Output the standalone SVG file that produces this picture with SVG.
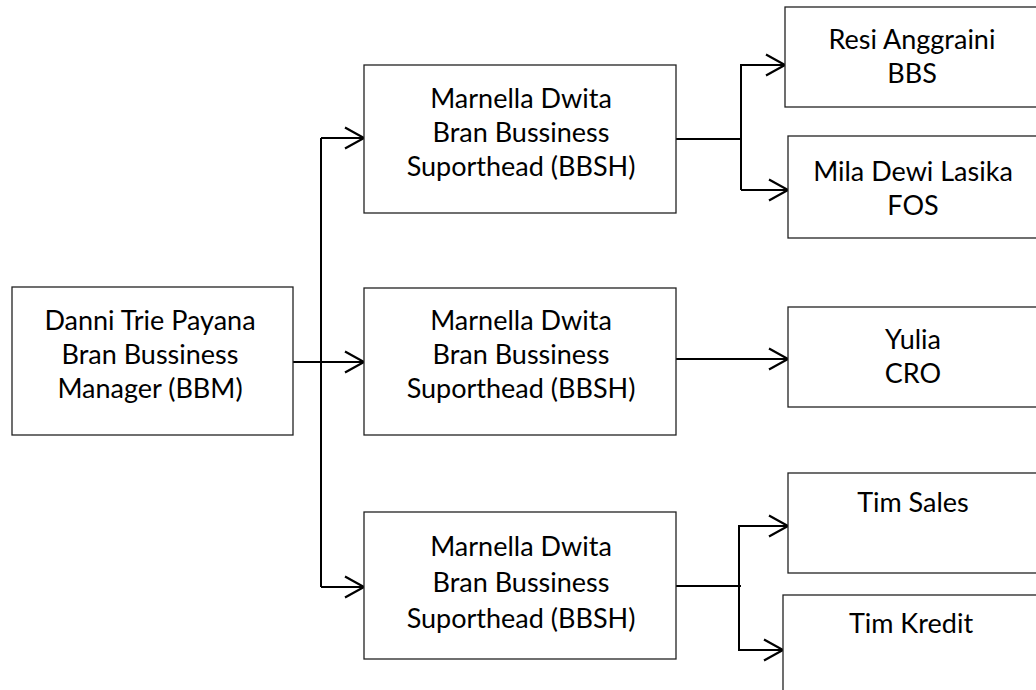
<svg xmlns="http://www.w3.org/2000/svg" width="1036" height="690" viewBox="0 0 1036 690">
  <style>
    .box { fill: #ffffff; stroke: #222222; stroke-width: 1.3; }
    .lbl { font-family: Lato, "Liberation Sans", sans-serif; font-size: 27px; fill: #000000; text-anchor: middle; }
    .conn { fill: none; stroke: #000000; stroke-width: 2; }
  </style>
  <defs>
    <marker id="arr" markerUnits="userSpaceOnUse" markerWidth="24" markerHeight="26" refX="21" refY="12" orient="auto" viewBox="0 0 24 24" overflow="visible">
      <path d="M2,1.5 L21,12 L2,22.5" fill="none" stroke="#000" stroke-width="2.2"/>
    </marker>
  </defs>
  <rect width="1036" height="690" fill="#ffffff"/>

  <g id="connectors">
    <path class="conn" d="M321,138 L321,587"/>
    <path class="conn" d="M293,362 L364,362" marker-end="url(#arr)"/>
    <path class="conn" d="M321,138 L364,138" marker-end="url(#arr)"/>
    <path class="conn" d="M321,587 L364,587" marker-end="url(#arr)"/>
    <path class="conn" d="M676,139 L741,139"/>
    <path class="conn" d="M741,64 L741,190"/>
    <path class="conn" d="M741,65 L785,65" marker-end="url(#arr)"/>
    <path class="conn" d="M741,190 L788,190" marker-end="url(#arr)"/>
    <path class="conn" d="M676,359 L788,359" marker-end="url(#arr)"/>
    <path class="conn" d="M676,586 L741,586"/>
    <path class="conn" d="M739,525 L739,651"/>
    <path class="conn" d="M739,526 L788,526" marker-end="url(#arr)"/>
    <path class="conn" d="M739,650 L783,650" marker-end="url(#arr)"/>
  </g>

  <g id="bbm">
    <rect class="box" x="12" y="287" width="281" height="148"/>
    <text class="lbl" x="150" y="330">Danni Trie Payana</text>
    <text class="lbl" x="150" y="364">Bran Bussiness</text>
    <text class="lbl" x="150" y="398">Manager (BBM)</text>
  </g>

  <g id="bbsh1">
    <rect class="box" x="364" y="65" width="312" height="148"/>
    <text class="lbl" x="521" y="108">Marnella Dwita</text>
    <text class="lbl" x="521" y="142">Bran Bussiness</text>
    <text class="lbl" x="521" y="176">Suporthead (BBSH)</text>
  </g>

  <g id="bbsh2">
    <rect class="box" x="364" y="288" width="312" height="147"/>
    <text class="lbl" x="521" y="330">Marnella Dwita</text>
    <text class="lbl" x="521" y="364">Bran Bussiness</text>
    <text class="lbl" x="521" y="398">Suporthead (BBSH)</text>
  </g>

  <g id="bbsh3">
    <rect class="box" x="364" y="512" width="312" height="147"/>
    <text class="lbl" x="521" y="556">Marnella Dwita</text>
    <text class="lbl" x="521" y="592">Bran Bussiness</text>
    <text class="lbl" x="521" y="628">Suporthead (BBSH)</text>
  </g>

  <g id="resi">
    <rect class="box" x="785" y="7" width="260" height="100"/>
    <text class="lbl" x="912" y="49">Resi Anggraini</text>
    <text class="lbl" x="912" y="83">BBS</text>
  </g>

  <g id="mila">
    <rect class="box" x="788" y="136" width="260" height="102"/>
    <text class="lbl" x="913" y="181">Mila Dewi Lasika</text>
    <text class="lbl" x="913" y="215">FOS</text>
  </g>

  <g id="yulia">
    <rect class="box" x="788" y="307" width="260" height="100"/>
    <text class="lbl" x="913" y="349">Yulia</text>
    <text class="lbl" x="913" y="383">CRO</text>
  </g>

  <g id="timsales">
    <rect class="box" x="788" y="473" width="260" height="100"/>
    <text class="lbl" x="913" y="512">Tim Sales</text>
  </g>

  <g id="timkredit">
    <rect class="box" x="783" y="595" width="265" height="110"/>
    <text class="lbl" x="911" y="633">Tim Kredit</text>
  </g>
</svg>
